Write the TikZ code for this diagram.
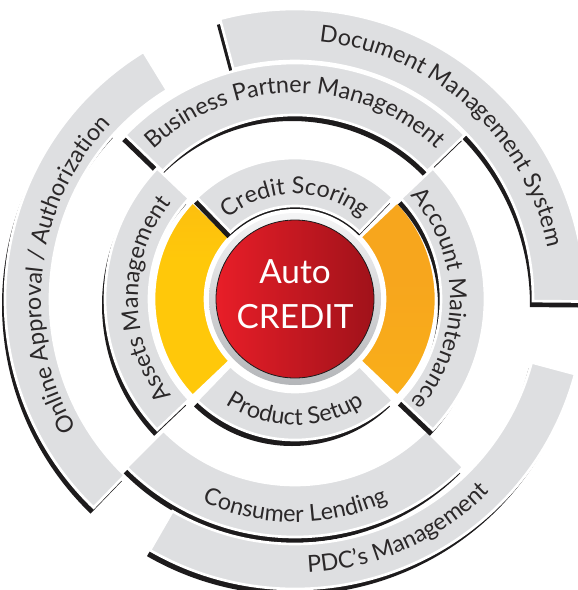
\documentclass[tikz,border=0pt]{standalone}
\usepackage{fontspec}
\setmainfont{Lato}
\usetikzlibrary{decorations.text}

\definecolor{bandgray}{RGB}{222,223,225}
\definecolor{shadowblack}{RGB}{29,27,28}
\definecolor{labelgray}{RGB}{43,40,41}
\definecolor{goldtop}{RGB}{248,176,22}
\definecolor{goldmid}{RGB}{255,200,10}
\definecolor{goldpale}{RGB}{253,236,160}
\definecolor{amberlight}{RGB}{253,206,110}
\definecolor{amber}{RGB}{247,166,29}
\definecolor{amberlow}{RGB}{251,182,22}
\definecolor{redlight}{RGB}{232,30,40}
\definecolor{reddark}{RGB}{160,18,26}
\definecolor{silverlight}{RGB}{245,245,246}
\definecolor{silverdark}{RGB}{180,182,185}

\pgfdeclareverticalshading{leftgold}{100bp}{color(0bp)=(goldpale); color(22bp)=(goldmid); color(60bp)=(goldmid); color(100bp)=(goldtop)}
\pgfdeclareverticalshading{rightgold}{100bp}{color(0bp)=(amberlow); color(55bp)=(amber); color(85bp)=(amber); color(100bp)=(amberlight)}
\pgfdeclareverticalshading{onlinefade}{100bp}{color(0bp)=(bandgray); color(82bp)=(bandgray); color(100bp)=(white)}

\newcommand{\ringfont}{\fontsize{17.5}{20}\selectfont}
\newcommand{\ringband}[4]{(#1:#3) arc[start angle=#1, end angle=#2, radius=#3] -- (#2:#4) arc[start angle=#2, end angle=#1, radius=#4] -- cycle}

\tikzset{
  band/.style={fill=bandgray, draw=white, line width=2pt},
  bandshadow/.style={fill=shadowblack, shift={(-3,-6)}},
  goldband/.style={draw=white, line width=2pt},
  ringlabel/.style={decorate, decoration={text along path, text align=center, text color=labelgray, text={|\ringfont|#1}}},
  centertext/.style={text=white, font=\fontsize{25}{25}\selectfont, inner sep=0pt, anchor=base}
}

\begin{document}
\begin{tikzpicture}[x=0.75pt,y=0.75pt,yscale=-1,xscale=1]
\clip (0,0) rectangle (578,590);
\begin{scope}[shift={(295,299)},yscale=-1]
%Shape: Outer Ring -- Document Management System
\path[bandshadow] \ringband{-0.5}{105}{238}{290};
\path[band] \ringband{-0.5}{105}{238}{290};
%Shape: Outer Ring -- Online Approval
\path[bandshadow] \ringband{137}{226}{245}{290};
\shadedraw[shading=onlinefade, goldband] \ringband{121.5}{226}{245}{290};
%Shape: Middle Ring -- Consumer Lending
\path[bandshadow] \ringband{225}{315}{186}{238};
\path[band] \ringband{225}{315}{186}{238};
%Shape: Outer Ring -- PDC's Management
\path[bandshadow] \ringband{240}{345}{245}{290};
\path[band] \ringband{240}{345}{245}{290};
%Shape: Middle Ring -- Business Partner Management
\path[bandshadow] \ringband{44}{136}{184}{236};
\path[band] \ringband{44}{136}{184}{236};
%Shape: Inner Ring -- yellow segments
\shadedraw[shading=leftgold, goldband] \ringband{136.5}{223.5}{90}{141};
\shadedraw[shading=rightgold, goldband] \ringband{-43.5}{43.5}{90}{141};
%Shape: Middle Ring -- Assets / Account
\path[bandshadow] \ringband{136.5}{223.5}{146}{190};
\path[band] \ringband{136.5}{223.5}{146}{190};
\path[bandshadow] \ringband{-43.5}{43.5}{146}{190};
\path[band] \ringband{-43.5}{43.5}{146}{190};
%Shape: Inner Ring -- Credit Scoring / Product Setup
\path[bandshadow] \ringband{46}{134}{93}{141};
\path[band] \ringband{46}{134}{93}{141};
\path[bandshadow] \ringband{226}{314}{93}{141};
\path[band] \ringband{226}{314}{93}{141};
%Shape: Button
\fill[white] (0,0) circle (90);
\shade[top color=silverlight, bottom color=silverdark] (0,0) circle (86);
\shade[left color=redlight, right color=reddark] (0,0) circle (79);
\draw[shadowblack, line width=0.6pt] (0,0) circle (79);

% Curved Text
\path[ringlabel={Document Management System}] (103:258) arc[start angle=103, end angle=-7, radius=258];
\path[ringlabel={Online Approval / Authorization}] (223.5:254) arc[start angle=223.5, end angle=123.5, radius=254];
\path[ringlabel={Business Partner Management}] (150:206) arc[start angle=150, end angle=30, radius=206];
\path[ringlabel={Consumer Lending}] (210:223) arc[start angle=210, end angle=330, radius=223];
\path[ringlabel={PDC’s Management}] (234:274) arc[start angle=234, end angle=354, radius=274];
\path[ringlabel={Assets Management}] (225:157) arc[start angle=225, end angle=135, radius=157];
\path[ringlabel={Account Maintenance}] (45:155) arc[start angle=45, end angle=-45, radius=155];
\path[ringlabel={Credit Scoring}] (150:105) arc[start angle=150, end angle=30, radius=105];
\path[ringlabel={Product Setup}] (210:126) arc[start angle=210, end angle=330, radius=126];
\end{scope}

% Text Node
\node[centertext] (autolabel) at (295,283) {Auto};
% Text Node
\node[centertext] (creditlabel) at (295,328) {CREDIT};

\end{tikzpicture}
\end{document}
